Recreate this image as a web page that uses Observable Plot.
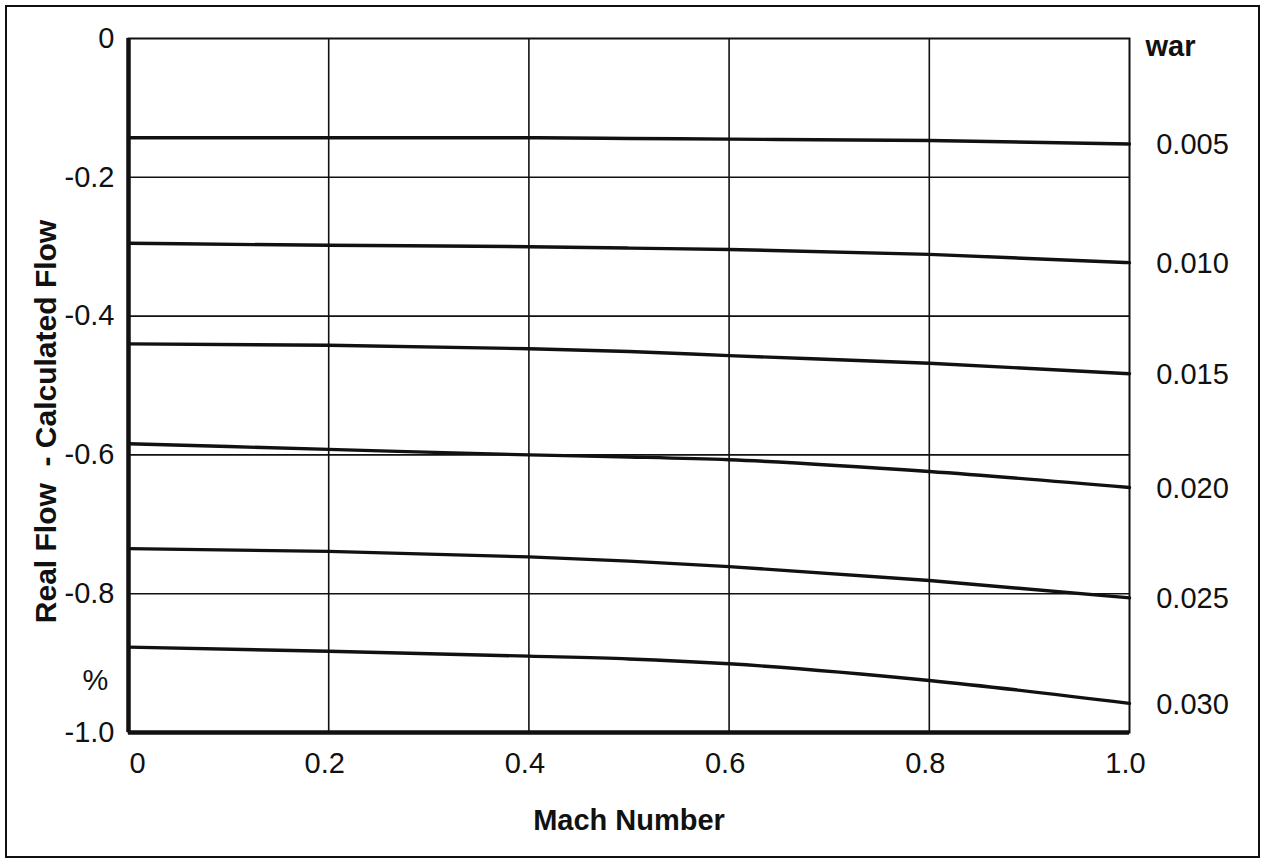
<!DOCTYPE html>
<html>
<head>
<meta charset="utf-8">
<script src="https://cdn.jsdelivr.net/npm/d3@7"></script>
<script src="https://cdn.jsdelivr.net/npm/@observablehq/plot@0.6"></script>
<style>
  html, body { margin: 0; padding: 0; background: white; }
  #wrap { position: relative; width: 1263px; height: 859px; }
  #border { position: absolute; left: 5px; top: 5px; width: 1251px; height: 849px; border: 2px solid #111; pointer-events: none; }
</style>
</head>
<body>
<div id="wrap"><div id="border"></div><div id="chart"></div></div>
<script>
// Mach number sample points
const mach = [0, 0.2, 0.4, 0.5, 0.6, 0.8, 1.0];
// Real Flow - Calculated Flow (%) for each water-air ratio (war)
const war005 = [-0.143, -0.143, -0.143, -0.144, -0.145, -0.147, -0.152];
const war010 = [-0.295, -0.298, -0.300, -0.302, -0.304, -0.311, -0.323];
const war015 = [-0.440, -0.442, -0.447, -0.451, -0.457, -0.468, -0.483];
const war020 = [-0.584, -0.592, -0.600, -0.603, -0.607, -0.624, -0.647];
const war025 = [-0.735, -0.739, -0.747, -0.753, -0.761, -0.781, -0.806];
const war030 = [-0.877, -0.883, -0.890, -0.894, -0.901, -0.925, -0.958];
const warLabels = ["0.005", "0.010", "0.015", "0.020", "0.025", "0.030"];
const seriesList = [war005, war010, war015, war020, war025, war030];

const xTicks = [0, 0.2, 0.4, 0.6, 0.8, 1.0];
const xTickLabels = ["0", "0.2", "0.4", "0.6", "0.8", "1.0"];
const yTicks = [0, -0.2, -0.4, -0.6, -0.8, -1.0];
const yTickLabels = ["0", "-0.2", "-0.4", "-0.6", "-0.8", "-1.0"];

const xTitle = "Mach Number";
const yTitle = "Real Flow  - Calculated Flow";
const unitLabel = "%";
const legendTitle = "war";

const data = [];
seriesList.forEach((s, i) => s.forEach((v, j) => data.push({war: warLabels[i], mach: mach[j], value: v})));
const ends = seriesList.map((s, i) => ({war: warLabels[i], mach: mach[mach.length - 1], value: s[s.length - 1]}));

const FS = 29;
const xFmt = (d) => xTickLabels[xTicks.indexOf(d)];
const chart = Plot.plot({
  width: 1263,
  height: 859,
  marginLeft: 128,
  marginRight: 134,
  marginTop: 38,
  marginBottom: 127,
  style: {fontFamily: "'Liberation Sans', Arial, sans-serif", fontSize: FS + "px", color: "#111", background: "transparent", overflow: "visible"},
  x: {domain: [0, 1], ticks: xTicks},
  y: {domain: [-1, 0], ticks: yTicks},
  marks: [
    Plot.ruleX(xTicks.slice(1, -1), {stroke: "#111", strokeWidth: 1.6}),
    Plot.ruleY(yTicks.slice(1, -1), {stroke: "#111", strokeWidth: 1.6}),
    Plot.frame({stroke: "#111", strokeWidth: 2}),
    Plot.line(data, {x: "mach", y: "value", z: "war", curve: "monotone-x", stroke: "#111", strokeWidth: 3.4}),
    Plot.ruleX([0], {stroke: "#111", strokeWidth: 4.5}),
    Plot.ruleY([-1], {stroke: "#111", strokeWidth: 4.5}),
    Plot.axisX({ticks: xTicks.slice(0, 1), tickFormat: xFmt, tickSize: 0, tickPadding: 20, dx: 9, label: null, fontSize: FS}),
    Plot.axisX({ticks: xTicks.slice(1), tickFormat: xFmt, tickSize: 0, tickPadding: 20, dx: -4, label: null, fontSize: FS}),
    Plot.axisY({ticks: yTicks, tickFormat: (d) => yTickLabels[yTicks.findIndex(t => Math.abs(t - d) < 1e-9)], tickSize: 0, tickPadding: 14, label: null, fontSize: FS}),
    Plot.text(ends, {x: "mach", y: "value", text: "war", dx: 63, dy: 1, textAnchor: "middle", fontSize: FS, fill: "#111"}),
    Plot.text([legendTitle], {frameAnchor: "top-right", dx: 41, dy: 8, lineAnchor: "middle", textAnchor: "middle", fontSize: FS, fontWeight: "bold", fill: "#111"}),
    Plot.text([xTitle], {frameAnchor: "bottom", dy: 88, lineAnchor: "middle", fontSize: FS, fontWeight: "bold", fill: "#111"}),
    Plot.text([yTitle], {frameAnchor: "left", dx: -82, dy: 36, rotate: -90, textAnchor: "middle", lineAnchor: "middle", fontSize: FS + 1, fontWeight: "bold", fill: "#111"}),
    Plot.text([unitLabel], {frameAnchor: "bottom-left", dx: -46, dy: -52, lineAnchor: "middle", fontSize: FS, fill: "#111"})
  ]
});
document.getElementById("chart").appendChild(chart);
</script>
</body>
</html>
